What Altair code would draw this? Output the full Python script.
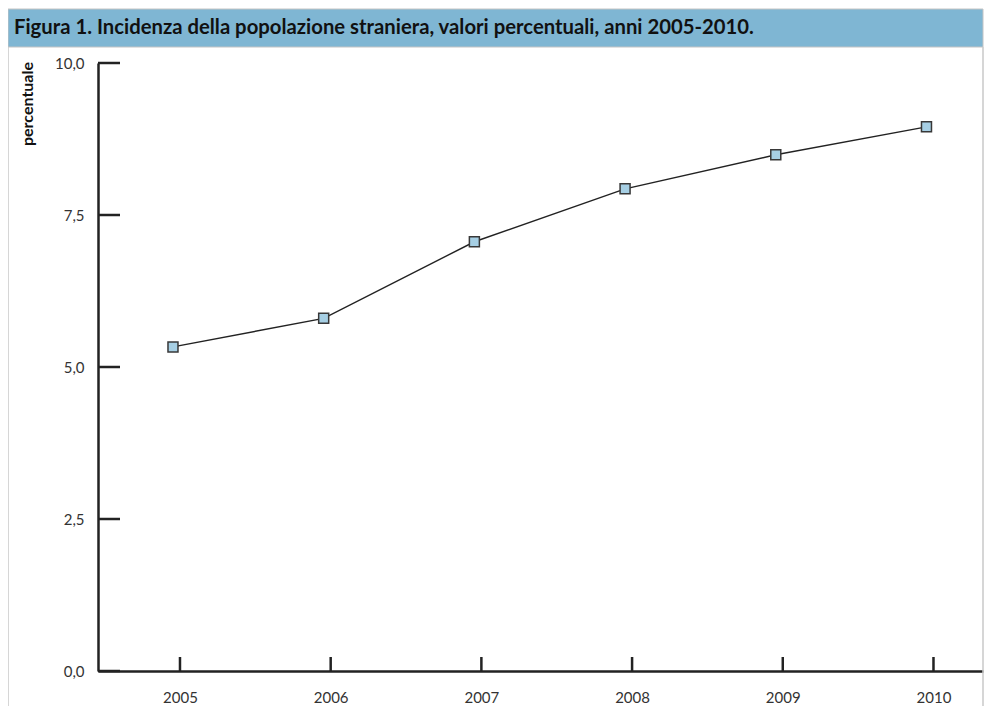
import altair as alt
import pandas as pd

years = [2005, 2006, 2007, 2008, 2009, 2010]
values = [5.33, 5.80, 7.06, 7.93, 8.49, 8.95]
y_ticks = [0, 2.5, 5, 7.5, 10]
title_text = "Figura 1. Incidenza della popolazione straniera, valori percentuali, anni 2005-2010."
y_title = "percentuale"

W, H = 885, 608
FONT = "Lato"

df = pd.DataFrame({"anno": years, "valore": values})
df_yt = pd.DataFrame({"t": y_ticks})

xscale = alt.Scale(domain=[2004.456, 2004.456 + W / 150.7], nice=False, zero=False)
yscale = alt.Scale(domain=[0, 10], nice=False)

xaxis = alt.Axis(values=years, format="d", ticks=False, grid=False, domainColor="#222222",
                 domainWidth=2.5, labelFontSize=15, labelColor="#333333", labelFont=FONT,
                 labelPadding=19, title=None)
yaxis = alt.Axis(values=y_ticks, format=".1f", labelExpr="replace(datum.label, '.', ',')",
                 ticks=False, grid=False, domainColor="#222222", domainWidth=2.5,
                 labelFontSize=15, labelColor="#333333", labelFont=FONT, labelPadding=14,
                 title=None)

base = alt.Chart(df)

line = base.mark_line(color="#222222", strokeWidth=1.4, xOffset=-7).encode(
    x=alt.X("anno:Q", scale=xscale, axis=xaxis),
    y=alt.Y("valore:Q", scale=yscale, axis=yaxis),
)
points = base.mark_point(shape="square", filled=True, size=100, fill="#a6cfe4",
                         stroke="#383838", strokeWidth=1.5, opacity=1, xOffset=-7).encode(
    x=alt.X("anno:Q", scale=xscale),
    y=alt.Y("valore:Q", scale=yscale),
)

xticks = base.mark_rule(color="#222222", strokeWidth=2.5).encode(
    x=alt.X("anno:Q", scale=xscale),
    y=alt.value(H),
    y2=alt.value(H - 14),
)
yticks = alt.Chart(df_yt).mark_rule(color="#222222", strokeWidth=2.5).encode(
    y=alt.Y("t:Q", scale=yscale),
    x=alt.value(0),
    x2=alt.value(22),
)

bar = alt.Chart(df.head(1)).mark_rect(fill="#7fb6d3", stroke="#c4c4c4", strokeWidth=1).encode(
    x=alt.value(-90), x2=alt.value(W), y=alt.value(-54), y2=alt.value(-16)
)
title = alt.Chart(df.head(1)).mark_text(text=title_text, font=FONT, fontSize=20.3, fontWeight="bold",
                                        color="#111111", align="left", baseline="middle").encode(
    x=alt.value(-84), y=alt.value(-35)
)
left_border = alt.Chart(df.head(1)).mark_rule(color="#c8c8c8", strokeWidth=1.5).encode(
    x=alt.value(-90), y=alt.value(-16), y2=alt.value(H + 40)
)
right_border = alt.Chart(df.head(1)).mark_rule(color="#c8c8c8", strokeWidth=1.5).encode(
    x=alt.value(W), y=alt.value(-16), y2=alt.value(H + 40)
)
ytitle = alt.Chart(df.head(1)).mark_text(text=y_title, font=FONT, fontSize=16, fontWeight="bold",
                                         color="#111111", angle=270, align="right",
                                         baseline="middle").encode(
    x=alt.value(-70), y=alt.value(-1)
)

chart = alt.layer(bar, title, left_border, right_border, ytitle, line, xticks, yticks, points).properties(
    width=W, height=H, autosize="none",
    padding={"left": 90, "top": 55, "right": 1, "bottom": 35},
    background="white",
).configure_view(stroke=None)

chart.save("out.html", embed_options={"renderer": "svg", "actions": False})
